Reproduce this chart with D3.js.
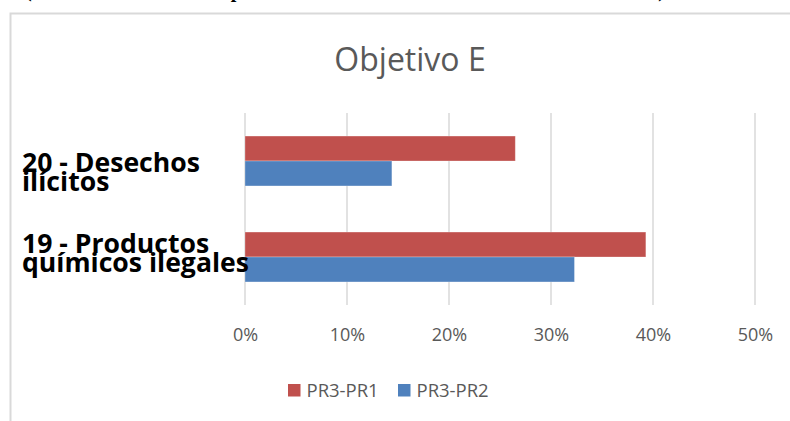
<!DOCTYPE html>
<html lang="es">
<head>
<meta charset="utf-8">
<title>Objetivo E</title>
<script src="https://cdnjs.cloudflare.com/ajax/libs/d3/7.8.5/d3.min.js"></script>
<style>
  body { margin: 0; background: #fff; }
  text { font-family: "Open Sans", Lato, sans-serif; }
</style>
</head>
<body>
<script>
// data
var categories = ["20 - Desechos ilícitos", "19 - Productos químicos ilegales"];
var categoryLines = [["20 - Desechos", "ilícitos"], ["19 - Productos", "químicos ilegales"]];
var seriesNames = ["PR3-PR1", "PR3-PR2"];
var pr3pr1 = [0.265, 0.393];
var pr3pr2 = [0.144, 0.323];
var tickValues = [0, 0.1, 0.2, 0.3, 0.4, 0.5];
var colors = ["#C0504D", "#4F81BD"];

var w = 790, h = 421;
var svg = d3.select("body").append("svg").attr("width", w).attr("height", h);

// caption above, mostly cut off by the crop
svg.append("text")
  .attr("x", 25).attr("y", -3)
  .attr("textLength", 640)
  .style("font-family", "'Liberation Serif', serif")
  .style("font-weight", "bold")
  .style("font-size", "20px")
  .attr("fill", "#000")
  .text("(sobre la base del promedio de todas las comunicaciones)");

// chart frame
svg.append("rect")
  .attr("x", 10.5).attr("y", 13.5)
  .attr("width", 800).attr("height", 420)
  .attr("fill", "none").attr("stroke", "#d9d9d9").attr("stroke-width", 2);

// title
svg.append("text")
  .attr("x", 410).attr("y", 71)
  .attr("text-anchor", "middle")
  .attr("fill", "#595959")
  .style("font-size", "32px")
  .text("Objetivo E");

var x = d3.scaleLinear().domain([0, 0.5]).range([245, 755]);
var y = d3.scaleBand().domain(categories).range([113, 305]).paddingInner(0.48).paddingOuter(0.24);
var ySub = d3.scaleBand().domain(seriesNames).range([0, y.bandwidth()]);

// gridlines
svg.append("g").selectAll("line").data(tickValues).enter().append("line")
  .attr("x1", function(d) { return x(d); })
  .attr("x2", function(d) { return x(d); })
  .attr("y1", 113).attr("y2", 305)
  .attr("stroke", "#d9d9d9").attr("stroke-width", 1.5);

// bars
var rows = categories.map(function(c, i) {
  return { cat: c, vals: [pr3pr1[i], pr3pr2[i]] };
});
var groups = svg.append("g").selectAll("g").data(rows).enter().append("g")
  .attr("transform", function(d) { return "translate(0," + y(d.cat) + ")"; });
groups.selectAll("rect")
  .data(function(d) { return d.vals.map(function(v, j) { return { s: seriesNames[j], v: v, j: j }; }); })
  .enter().append("rect")
  .attr("x", x(0))
  .attr("y", function(d) { return ySub(d.s); })
  .attr("width", function(d) { return x(d.v) - x(0); })
  .attr("height", ySub.bandwidth())
  .attr("fill", function(d) { return colors[d.j]; })
  .attr("stroke", "#fff").attr("stroke-opacity", 0.35).attr("stroke-width", 0.8);

// category labels (the wrapped text sits a bit differently in each row)
var labelShift = [11, -4];
var labels = svg.append("g").selectAll("text").data(categories).enter().append("text")
  .attr("x", 22)
  .attr("y", function(d, i) { return y(d) + y.bandwidth() / 2 + labelShift[i]; })
  .attr("fill", "#000")
  .style("font-weight", "bold")
  .style("font-size", "26.6px");
labels.each(function(d, i) {
  var t = d3.select(this);
  var lines = categoryLines[i];
  t.append("tspan").attr("x", 22).text(lines[0]);
  t.append("tspan").attr("x", 22).attr("dy", 18.5).text(lines[1]);
});

// x axis
var axis = d3.axisBottom(x).tickValues(tickValues).tickFormat(d3.format(".0%")).tickSize(0).tickPadding(0);
var ax = svg.append("g").attr("transform", "translate(0,328)").call(axis);
ax.select(".domain").remove();
ax.selectAll("text").attr("fill", "#595959").style("font-size", "18px")
  .style("font-family", "'Open Sans', Lato, sans-serif");

// legend
var legendX = [288, 398];
var leg = svg.append("g").selectAll("g").data(seriesNames).enter().append("g")
  .attr("transform", function(d, i) { return "translate(" + legendX[i] + ",384)"; });
leg.append("rect").attr("width", 12.5).attr("height", 12.5)
  .attr("fill", function(d, i) { return colors[i]; });
leg.append("text").attr("x", 18.5).attr("y", 12.5)
  .attr("fill", "#595959").style("font-size", "18.5px")
  .text(function(d) { return d; });
</script>
</body>
</html>
